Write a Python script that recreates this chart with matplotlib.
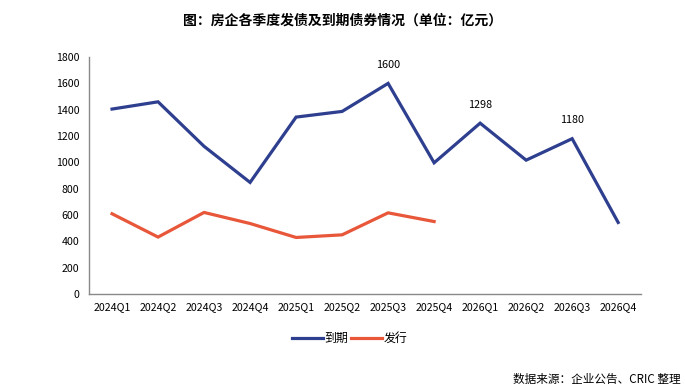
import matplotlib
matplotlib.use("Agg")
import matplotlib.pyplot as plt

plt.rcParams['font.family'] = ['Noto Sans CJK SC', 'DejaVu Sans']

categories = ["2024Q1", "2024Q2", "2024Q3", "2024Q4", "2025Q1", "2025Q2",
              "2025Q3", "2025Q4", "2026Q1", "2026Q2", "2026Q3", "2026Q4"]
maturity = [1405, 1460, 1122, 848, 1344, 1387, 1600, 997, 1298, 1017, 1180, 544]
issuance = [610, 433, 620, 536, 430, 450, 617, 551]
labeled = {"2025Q3": 1600, "2026Q1": 1298, "2026Q3": 1180}

blue = "#2E3F8F"
orange = "#E8573A"

fig = plt.figure(figsize=(6.85, 3.88), dpi=100)
ax = fig.add_axes([0.130, 0.242, 0.806, 0.611])

x = list(range(len(categories)))
ax.plot(x, maturity, color=blue, lw=2.3, label="到期", solid_joinstyle="miter")
ax.plot(x[:len(issuance)], issuance, color=orange, lw=2.3, label="发行", solid_joinstyle="miter")

for cat, v in labeled.items():
    i = categories.index(cat)
    ax.annotate(str(v), (i, v), xytext=(0, 9.5), textcoords="offset points",
                ha="center", va="bottom", fontsize=7.8)

ax.set_xlim(-0.5, len(categories) - 0.5)
ax.set_ylim(0, 1800)
ax.set_yticks(range(0, 1801, 200))
ax.set_xticks(x)
ax.set_xticklabels(categories)
ax.tick_params(axis="both", length=0, labelsize=7.6, colors="#000000")
ax.tick_params(axis="x", pad=6)
ax.tick_params(axis="y", pad=7)
for s in ["top", "right"]:
    ax.spines[s].set_visible(False)
for s in ["left", "bottom"]:
    ax.spines[s].set_color("#898989")
    ax.spines[s].set_linewidth(1.0)

fig.text(0.5, 0.948, "图：房企各季度发债及到期债券情况（单位：亿元）", ha="center", va="center",
         fontsize=10, fontweight="bold")
fig.legend(loc="center", bbox_to_anchor=(0.510, 0.128), ncol=2, frameon=False,
           fontsize=8.6, handlelength=2.6, handletextpad=0.15, columnspacing=0.2)
fig.text(0.993, 0.022, "数据来源：企业公告、CRIC 整理", ha="right", va="center", fontsize=8.4)

fig.savefig("out.png", dpi=100)
